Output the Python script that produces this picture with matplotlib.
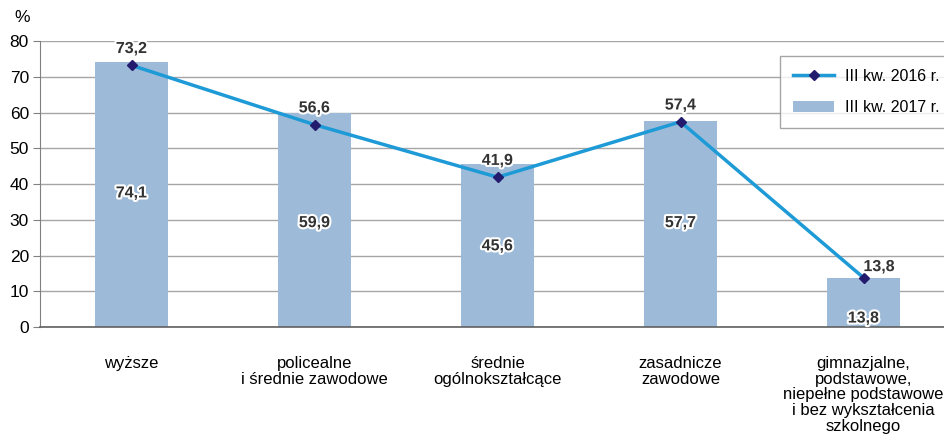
import numpy as np
import matplotlib.pyplot as plt
import matplotlib.patheffects as pe

plt.rcParams['font.family'] = ['Liberation Sans', 'DejaVu Sans']

categories = ["wyższe",
              "policealne\ni średnie zawodowe",
              "średnie\nogólnokształcące",
              "zasadnicze\nzawodowe",
              "gimnazjalne,\npodstawowe,\nniepełne podstawowe\ni bez wykształcenia\nszkolnego"]
q3_2017 = [74.1, 59.9, 45.6, 57.7, 13.8]
q3_2016 = [73.2, 56.6, 41.9, 57.4, 13.8]
bar_label_y = [37.5, 29.2, 22.7, 29.2, 2.5]

bar_color = '#9DBBD8'
line_color = '#1E9AD6'
marker_color = '#231C6E'
grid_color = '#A6A6A6'

fig = plt.figure(figsize=(9.44, 4.44), dpi=100)
ax = fig.add_axes([40/944, 1 - 327/444, 915/944, 286/444])

x = np.arange(len(categories))
ax.bar(x, q3_2017, width=0.4, color=bar_color, label='III kw. 2017 r.', zorder=2)
ax.plot(x, q3_2016, color=line_color, lw=2.5, marker='D', ms=5,
        mfc=marker_color, mec=marker_color, label='III kw. 2016 r.', zorder=3)

halo = [pe.withStroke(linewidth=3, foreground='white')]
for i, v in enumerate(q3_2017):
    ax.text(i, bar_label_y[i], f"{v:.1f}".replace('.', ','), ha='center', va='center',
            fontsize=11.5, fontweight='bold', color='#333333', path_effects=halo, zorder=4)
for i, v in enumerate(q3_2016):
    txt = f"{v:.1f}".replace('.', ',')
    if i == 4:
        ax.text(i + 0.0, v + 1.0, txt, ha='left', va='bottom', fontsize=11.5,
                fontweight='bold', color='#333333', path_effects=halo, zorder=4)
    else:
        ax.text(i, v + 2.6, txt, ha='center', va='bottom', fontsize=11.5,
                fontweight='bold', color='#333333', path_effects=halo, zorder=4)

ax.set_xlim(-0.5, len(categories) - 0.5)
ax.set_ylim(0, 80)
ax.set_yticks(range(0, 81, 10))
ax.yaxis.grid(True, color=grid_color, lw=1)
ax.set_axisbelow(True)
ax.tick_params(axis='y', direction='out', length=5, color='#808080', labelsize=12.5, pad=3)
ax.set_xticks(x)
ax.set_xticklabels(categories, fontsize=12, linespacing=1.05)
ax.tick_params(axis='x', length=0, pad=21)
for s in ['top', 'right']:
    ax.spines[s].set_visible(False)
ax.spines['left'].set_color('#808080')
ax.spines['bottom'].set_color('#606060')
ax.spines['bottom'].set_linewidth(1.2)

fig.text(14/944, 1 - 18/444, '%', fontsize=12.5, ha='left', va='center')

leg = ax.legend(loc='upper left', bbox_to_anchor=(780/944, 1 - 56/444),
                bbox_transform=fig.transFigure, frameon=True, fancybox=False,
                fontsize=11.5, handlelength=2.6, handletextpad=0.7, borderpad=0.8,
                labelspacing=1.0, borderaxespad=0, edgecolor='#909090')
leg.get_frame().set_linewidth(1)

fig.savefig('out.png', dpi=100)
